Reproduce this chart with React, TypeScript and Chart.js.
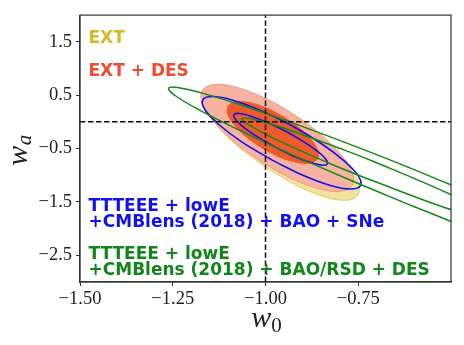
import React, { useEffect, useRef } from 'react';
import { Chart, registerables } from 'chart.js';

Chart.register(...registerables);

// ---- axes ----
const X_RANGE = [-1.5, -0.5];
const Y_RANGE = [-3, 2];
const X_TICKS = [-1.5, -1.25, -1.0, -0.75];
const X_TICK_LABELS = ['−1.50', '−1.25', '−1.00', '−0.75'];
const Y_TICKS = [1.5, 0.5, -0.5, -1.5, -2.5];
const Y_TICK_LABELS = ['1.5', '0.5', '−0.5', '−1.5', '−2.5'];
const FIDUCIAL_W0 = -1;
const FIDUCIAL_WA = 0;

// ---- contour outlines (w0, wa) ----
// EXT, 95% region
const EXT_2S_W0 = [-1.000, -1.076, -1.134, -1.165, -1.164, -1.133, -1.074, -0.998, -0.916, -0.839, -0.782, -0.750, -0.751, -0.783, -0.842, -0.918];
const EXT_2S_WA = [-0.850, -0.450, -0.046, 0.300, 0.537, 0.630, 0.561, 0.343, 0.009, -0.391, -0.794, -1.141, -1.378, -1.470, -1.402, -1.183];
// EXT + DES, 95% region
const EXTDES_2S_W0 = [-1.011, -1.085, -1.141, -1.171, -1.170, -1.138, -1.081, -1.006, -0.926, -0.852, -0.796, -0.766, -0.767, -0.799, -0.856, -0.931];
const EXTDES_2S_WA = [-0.750, -0.371, 0.017, 0.357, 0.598, 0.702, 0.654, 0.460, 0.150, -0.229, -0.617, -0.957, -1.198, -1.302, -1.254, -1.060];
// EXT + DES, 68% region
const EXTDES_1S_W0 = [-1.007, -1.051, -1.084, -1.102, -1.101, -1.082, -1.047, -1.002, -0.954, -0.910, -0.877, -0.859, -0.860, -0.880, -0.914, -0.959];
const EXTDES_1S_WA = [-0.500, -0.287, -0.061, 0.146, 0.298, 0.376, 0.365, 0.272, 0.104, -0.109, -0.335, -0.543, -0.694, -0.772, -0.761, -0.669];
// Planck + BAO + SNe, 95% / 68%
const SNE_2S_W0 = [-0.982, -1.062, -1.125, -1.163, -1.169, -1.143, -1.088, -1.014, -0.930, -0.851, -0.788, -0.750, -0.744, -0.770, -0.825, -0.899];
const SNE_2S_WA = [-0.717, -0.385, -0.054, 0.226, 0.411, 0.474, 0.406, 0.215, -0.069, -0.400, -0.731, -1.011, -1.196, -1.259, -1.191, -1.000];
const SNE_1S_W0 = [-0.971, -1.018, -1.057, -1.080, -1.085, -1.071, -1.040, -0.996, -0.947, -0.900, -0.861, -0.838, -0.833, -0.847, -0.878, -0.922];
const SNE_1S_WA = [-0.483, -0.295, -0.111, 0.039, 0.133, 0.157, 0.107, -0.008, -0.172, -0.360, -0.544, -0.694, -0.789, -0.813, -0.763, -0.647];
// Planck + BAO/RSD + DES, 95% / 68%
const DES_2S_W0 = [-0.602, -0.777, -0.938, -1.075, -1.179, -1.243, -1.261, -1.233, -1.161, -1.050, -0.907, -0.742, -0.567, -0.231, 0.092, -0.262];
const DES_2S_WA = [-1.581, -1.076, -0.585, -0.141, 0.224, 0.489, 0.630, 0.641, 0.520, 0.278, -0.070, -0.502, -0.989, -1.985, -3.200, -2.500];
const DES_1S_W0 = [-0.734, -0.822, -0.903, -0.972, -1.023, -1.055, -1.064, -1.050, -1.014, -0.958, -0.887, -0.804, -0.715, -0.477, -0.385, -0.491];
const DES_1S_WA = [-1.043, -0.793, -0.548, -0.328, -0.144, -0.011, 0.061, 0.070, 0.015, -0.102, -0.274, -0.485, -0.724, -1.439, -1.828, -1.665];

// ---- legend text ----
const LEGEND_LINES = [
  'EXT',
  'EXT + DES',
  'TTTEEE + lowE',
  '+CMBlens (2018) + BAO + SNe',
  'TTTEEE + lowE',
  '+CMBlens (2018) + BAO/RSD + DES',
];
const LEGEND_COLORS = ['#d6b82a', '#ef4a34', '#1212ee', '#1212ee', '#12861a', '#12861a'];
const LEGEND_BASELINES = [28, 61, 196, 212, 244, 260];

const closed = (w0: number[], wa: number[]) => {
  const pts = w0.map((x, i) => ({ x, y: wa[i] }));
  pts.push({ ...pts[0] });
  return pts;
};

const contour = (label: string, w0: number[], wa: number[], opts: any) => ({
  label,
  data: closed(w0, wa),
  showLine: true,
  pointRadius: 0,
  pointHoverRadius: 0,
  tension: 0.35,
  capBezierPoints: false,
  ...opts,
});

const overlayPlugin = {
  id: 'overlay',
  afterDraw(chart: any) {
    const { ctx, chartArea: a } = chart;
    ctx.save();
    ctx.strokeStyle = '#333';
    ctx.lineWidth = 1.2;
    ctx.strokeRect(a.left, a.top, a.right - a.left, a.bottom - a.top);

    ctx.font = 'bold 17px "DejaVu Sans"';
    ctx.textAlign = 'left';
    ctx.textBaseline = 'alphabetic';
    LEGEND_LINES.forEach((t, i) => {
      ctx.fillStyle = LEGEND_COLORS[i];
      ctx.fillText(t, a.left + 8.5, a.top + LEGEND_BASELINES[i]);
    });

    // axis titles
    ctx.fillStyle = '#222';
    const big = 'italic 30px "Liberation Serif"';
    const small = '21px "Liberation Serif"';
    const smallIt = 'italic 21px "Liberation Serif"';
    // x: w_0
    ctx.font = big;
    const ww = ctx.measureText('w').width;
    ctx.font = small;
    const w0w = ctx.measureText('0').width;
    const cx = (a.left + a.right) / 2;
    const sx = cx - (ww + w0w) / 2 + 1;
    ctx.font = big;
    ctx.fillText('w', sx, 327);
    ctx.font = small;
    ctx.fillText('0', sx + ww, 332);
    // y: w_a
    ctx.font = smallIt;
    const waw = ctx.measureText('a').width;
    const cy = (a.top + a.bottom) / 2 + 2;
    ctx.translate(27, cy);
    ctx.rotate(-Math.PI / 2);
    ctx.font = big;
    const sy = -(ww + waw) / 2;
    ctx.fillText('w', sy, 0);
    ctx.font = smallIt;
    ctx.fillText('a', sy + ww + 0.5, 4);
    ctx.restore();
  },
};

export default function App() {
  const ref = useRef<HTMLCanvasElement | null>(null);
  useEffect(() => {
    if (!ref.current) return;
    const tickFont = { family: 'Liberation Serif', size: 18.5 };
    const chart = new Chart(ref.current, {
      type: 'scatter',
      data: {
        datasets: [
          contour('EXT 95%', EXT_2S_W0, EXT_2S_WA, { fill: 'shape', backgroundColor: '#efe39e', borderColor: '#e3cc62', borderWidth: 1, order: 8 }),
          contour('EXT + DES 95%', EXTDES_2S_W0, EXTDES_2S_WA, { fill: 'shape', backgroundColor: '#f6b3a1', borderColor: '#f29c80', borderWidth: 1, order: 7 }),
          contour('EXT + DES 68%', EXTDES_1S_W0, EXTDES_1S_WA, { fill: 'shape', backgroundColor: '#ef5a2a', borderColor: '#ef5a2a', borderWidth: 1, order: 6 }),
          contour('BAO + SNe 95%', SNE_2S_W0, SNE_2S_WA, { fill: false, borderColor: '#1010f0', borderWidth: 1.6, order: 5 }),
          contour('BAO + SNe 68%', SNE_1S_W0, SNE_1S_WA, { fill: false, borderColor: '#1010f0', borderWidth: 1.6, order: 4 }),
          contour('BAO/RSD + DES 95%', DES_2S_W0, DES_2S_WA, { fill: false, borderColor: '#138a13', borderWidth: 1.5, order: 3 }),
          contour('BAO/RSD + DES 68%', DES_1S_W0, DES_1S_WA, { fill: false, borderColor: '#138a13', borderWidth: 1.5, order: 2 }),
          {
            label: 'w0 = -1',
            data: [{ x: FIDUCIAL_W0, y: Y_RANGE[0] }, { x: FIDUCIAL_W0, y: Y_RANGE[1] }],
            showLine: true, pointRadius: 0, borderColor: '#111', borderWidth: 1.5, borderDash: [5.5, 2.5], fill: false, order: 1,
          },
          {
            label: 'wa = 0',
            data: [{ x: X_RANGE[0], y: FIDUCIAL_WA }, { x: X_RANGE[1], y: FIDUCIAL_WA }],
            showLine: true, pointRadius: 0, borderColor: '#111', borderWidth: 1.5, borderDash: [5.5, 2.5], fill: false, order: 0,
          },
        ] as any,
      },
      options: {
        animation: false,
        responsive: false,
        devicePixelRatio: 1,
        events: [],
        layout: { padding: { top: 11, right: 13, left: 0, bottom: 0 } },
        plugins: { legend: { display: false }, tooltip: { enabled: false } },
        scales: {
          x: {
            type: 'linear',
            min: X_RANGE[0],
            max: X_RANGE[1],
            afterBuildTicks: (s: any) => { s.ticks = X_TICKS.map((v) => ({ value: v })); },
            afterFit: (s: any) => { s.height = 63; },
            ticks: {
              autoSkip: false,
              maxRotation: 0,
              padding: 2,
              color: '#222',
              font: tickFont,
              callback: (v: any) => {
                const i = X_TICKS.findIndex((t) => Math.abs(t - v) < 1e-9);
                return i >= 0 ? X_TICK_LABELS[i] : '';
              },
            },
            grid: { drawOnChartArea: false, drawTicks: true, tickLength: 4, color: '#333', lineWidth: 1 },
            border: { display: true, color: '#333', width: 1.2 },
          },
          y: {
            type: 'linear',
            min: Y_RANGE[0],
            max: Y_RANGE[1],
            afterBuildTicks: (s: any) => { s.ticks = Y_TICKS.map((v) => ({ value: v })); },
            afterFit: (s: any) => { s.width = 80; },
            ticks: {
              autoSkip: false,
              padding: 4,
              color: '#222',
              font: tickFont,
              callback: (v: any) => {
                const i = Y_TICKS.findIndex((t) => Math.abs(t - v) < 1e-9);
                return i >= 0 ? Y_TICK_LABELS[i] : '';
              },
            },
            grid: { drawOnChartArea: false, drawTicks: true, tickLength: 4, color: '#333', lineWidth: 1 },
            border: { display: true, color: '#333', width: 1.2 },
          },
        },
      } as any,
      plugins: [overlayPlugin],
    });
    return () => chart.destroy();
  }, []);

  return (
    <div style={{ position: 'absolute', left: 0, top: 0, width: 464, height: 345, background: '#fff' }}>
      <canvas ref={ref} width={464} height={345} style={{ display: 'block' }} />
    </div>
  );
}
